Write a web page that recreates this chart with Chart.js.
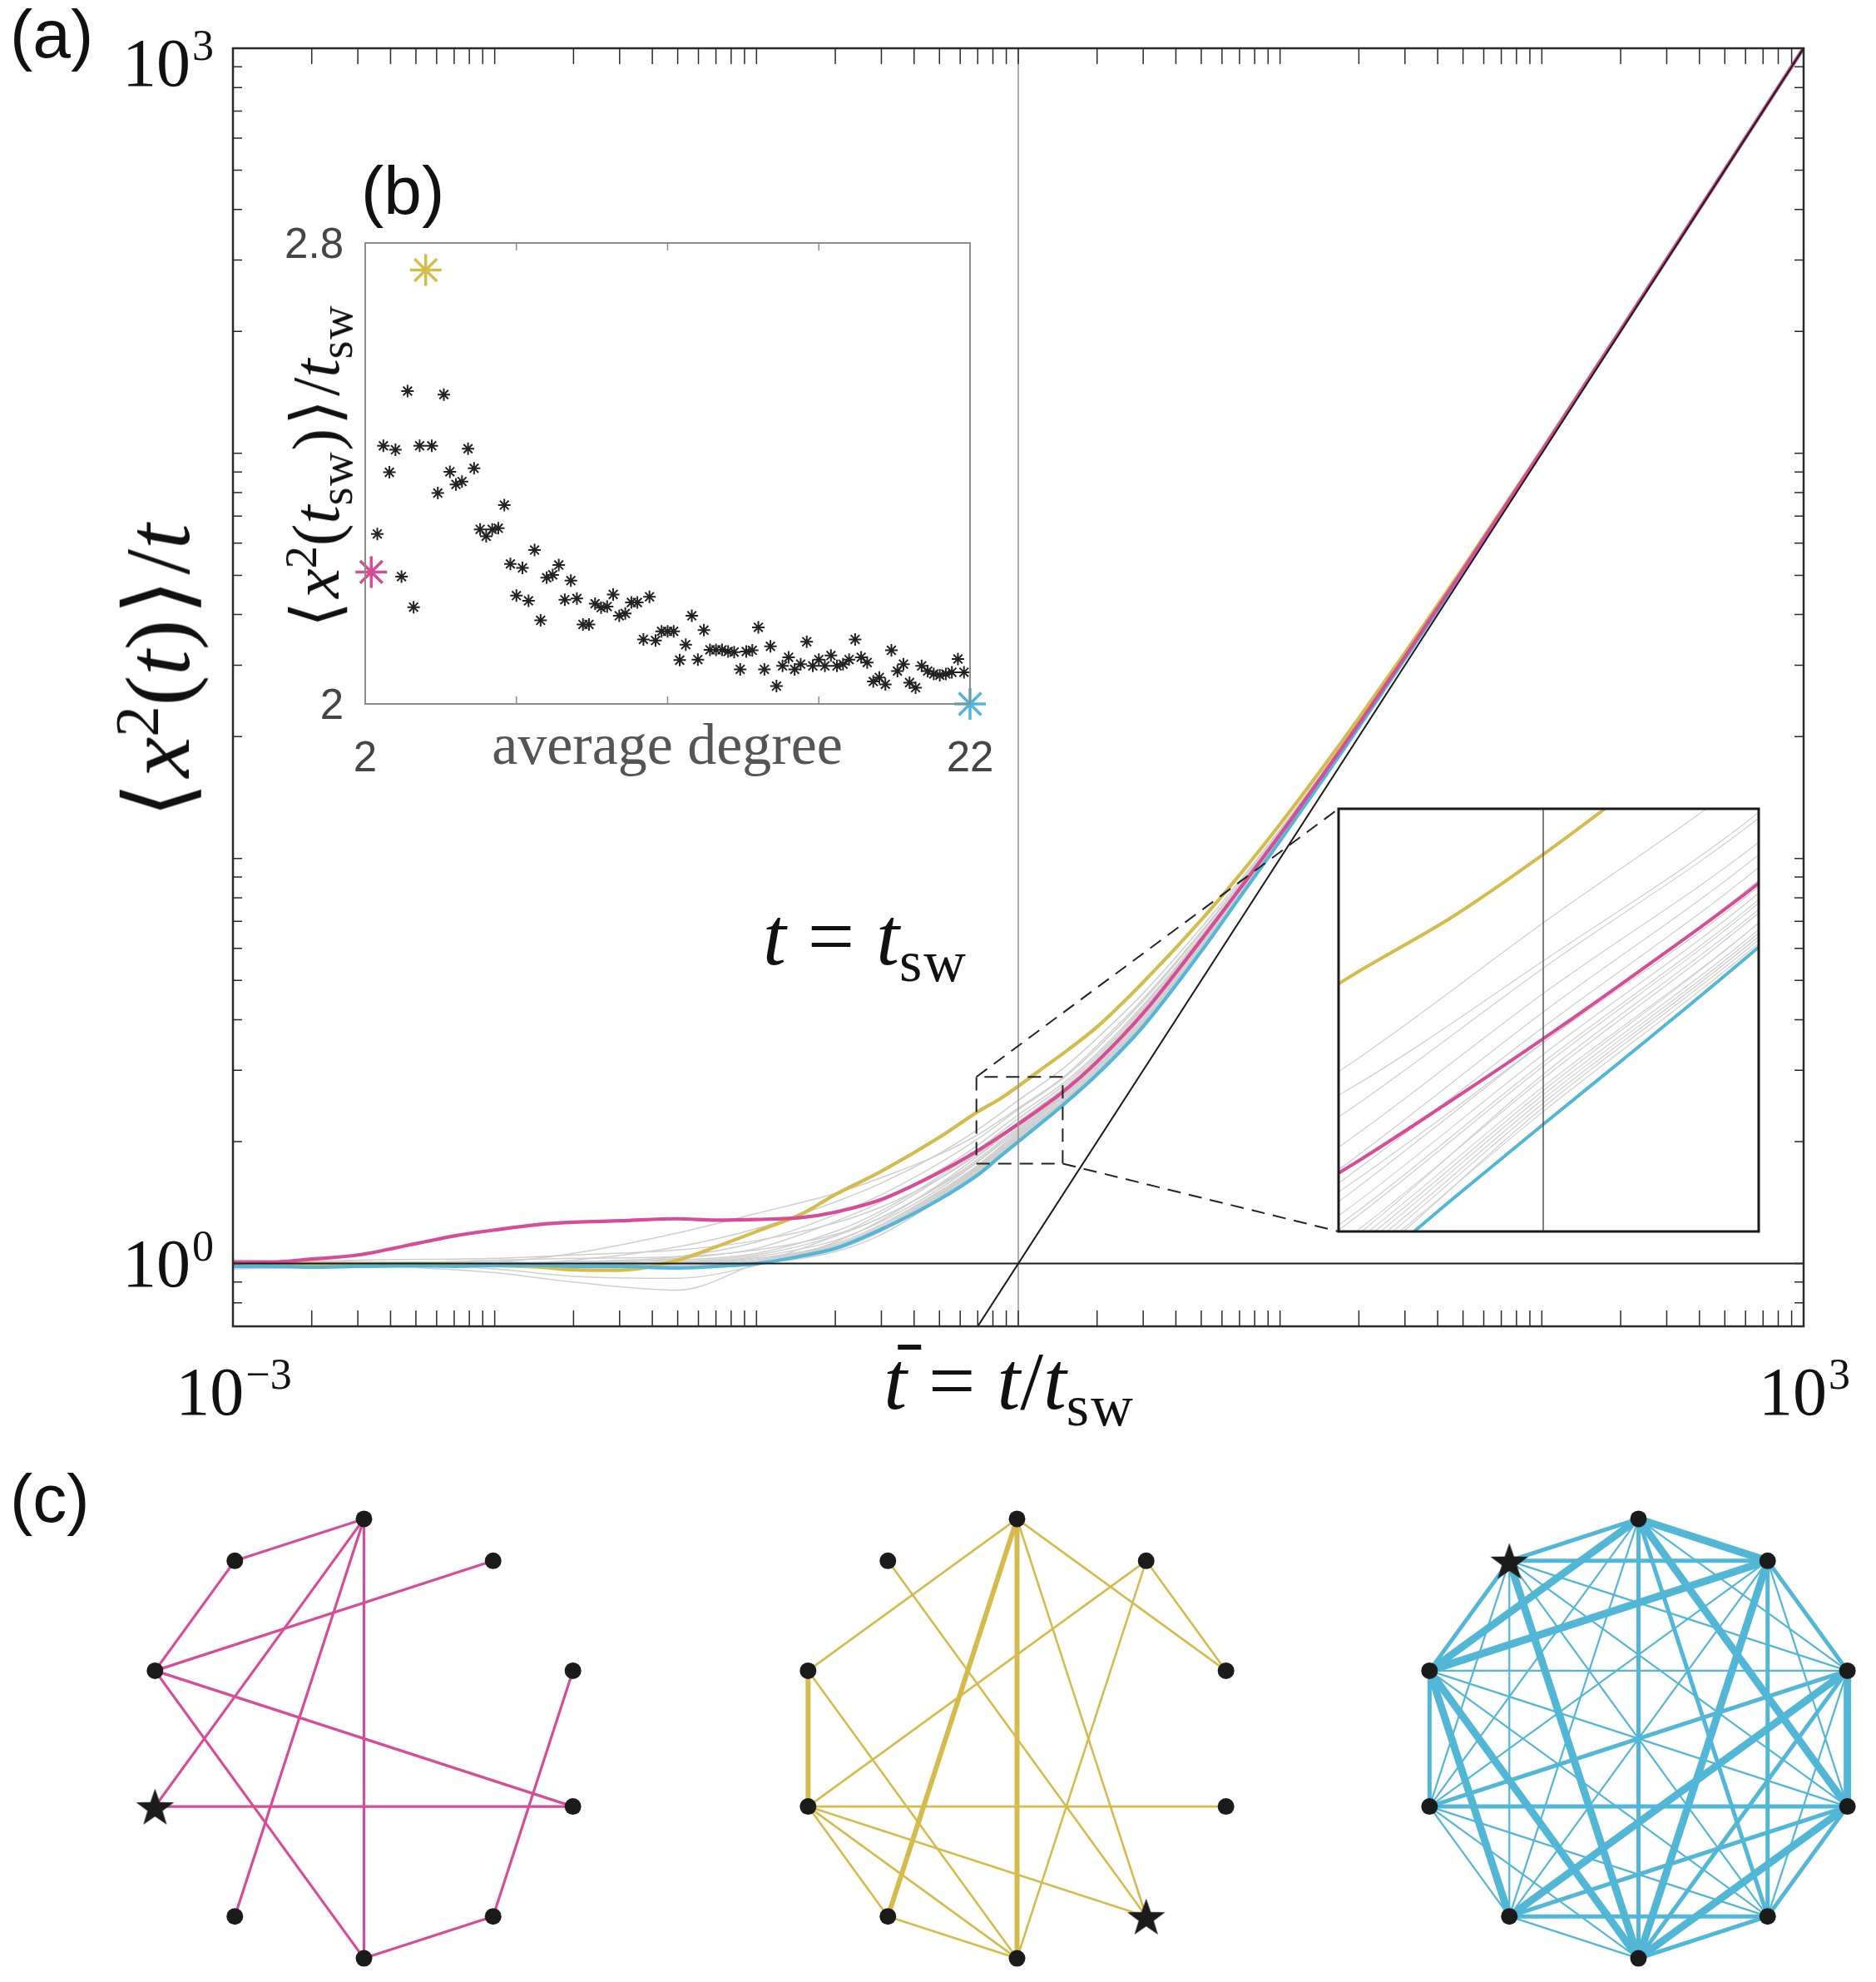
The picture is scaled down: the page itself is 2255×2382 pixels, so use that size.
<!DOCTYPE html>
<html lang="en">
<head>
<meta charset="UTF-8">
<title>Diffusion on small-world networks</title>
<script src="https://cdn.jsdelivr.net/npm/chart.js@4.4.1/dist/chart.umd.min.js"></script>
<style>
  body { margin: 0; background: #fff; overflow: hidden; }
  #page { position: relative; width: 2255px; height: 2382px; overflow: hidden; background: #fff; }
  .holder { position: absolute; }
  .txt { position: absolute; white-space: nowrap; line-height: 1; color: #111; }
  .tag { font-family: "Liberation Sans", Arial, sans-serif; font-size: 82px; }
  .tex { font-family: "Liberation Serif", "DejaVu Serif", serif; }
  .tex sup { font-size: 0.68em; vertical-align: 0.5em; line-height: 0; }
  .tex sub { font-size: 0.7em; vertical-align: -0.28em; line-height: 0; letter-spacing: 0.03em; }
  .tex .op { margin: 0 0.26em; }
  .tex .ang { margin: 0 0.05em; }
  .rot { transform: translate(-50%, -50%) rotate(-90deg); }
  .bar { position: relative; }
  .bar::before { content: ""; position: absolute; left: 0.17em; top: 0.12em; width: 0.28em; border-top: 0.06em solid #111; }
</style>
</head>
<body>
<div id="page">
  <div class="holder" style="left:0;top:0"><canvas id="mainChart" width="2255" height="1760"></canvas></div>
  <div class="holder" style="left:300px;top:180px"><canvas id="degreeChart" width="950" height="800"></canvas></div>
  <div class="holder" style="left:1580px;top:950px"><canvas id="zoomChart" width="560" height="560"></canvas></div>
  <div class="holder" style="left:147px;top:1799px"><canvas id="netPink" width="581" height="581"></canvas></div>
  <div class="holder" style="left:932px;top:1799px"><canvas id="netYellow" width="581" height="581"></canvas></div>
  <div class="holder" style="left:1679px;top:1799px"><canvas id="netBlue" width="581" height="581"></canvas></div>

  <div class="txt tag" style="left:12px;top:0">(a)</div>
  <div class="txt tag" style="left:434px;top:188px">(b)</div>
  <div class="txt tag" style="left:12px;top:1760px">(c)</div>

  <div class="txt tex rot" style="left:190px;top:809px;font-size:110px"><span class="ang">⟨</span><i>x</i><sup>2</sup>(<i>t</i>)<span class="ang">⟩</span>/<i>t</i></div>
  <div class="txt tex" style="left:1213px;top:1610px;font-size:100px;transform:translateX(-50%)"><i class="bar">t</i><span class="op">=</span><i>t</i>/<i>t</i><sub>sw</sub></div>
  <div class="txt tex" style="left:917px;top:1076px;font-size:100px"><i>t</i><span class="op">=</span><i>t</i><sub>sw</sub></div>
  <div class="txt tex rot" style="left:380px;top:562px;font-size:80px"><span class="ang">⟨</span><i>x</i><sup>2</sup>(<i>t</i><sub>sw</sub>)<span class="ang">⟩</span>/<i>t</i><sub>sw</sub></div>
  <div class="txt tex" style="left:802px;top:860px;font-size:70px;color:#555;transform:translateX(-50%)">average degree</div>
</div>

<script>
  // ---- (a) rescaled MSD, three highlighted networks on a shared time grid
  const tGrid = [0.001, 0.0015, 0.002, 0.003, 0.005, 0.007, 0.01, 0.015, 0.02, 0.03, 0.05, 0.07, 0.1, 0.15, 0.2, 0.3, 0.5, 0.7, 0.85, 1, 1.2, 1.5, 2, 3, 5, 7, 10, 15, 20, 30, 50, 100, 200, 500, 1000];
  const pinkMsd = [1.008, 1.010, 1.026, 1.05, 1.12, 1.17, 1.21, 1.25, 1.265, 1.275, 1.29, 1.28, 1.285, 1.30, 1.34, 1.44, 1.68, 1.90, 2.06, 2.21, 2.40, 2.67, 3.15, 4.15, 6.3, 8.4, 11.45, 16.5, 21.5, 31.5, 51.5, 101.5, 201.5, 501.5, 1001.5];
  const yellowMsd = [1.0, 1.0, 1.0, 0.995, 1.0, 0.995, 0.99, 0.98, 0.965, 0.963, 1.02, 1.10, 1.20, 1.33, 1.48, 1.69, 2.05, 2.37, 2.55, 2.74, 2.99, 3.32, 3.84, 4.95, 7.05, 9.1, 12.15, 17.2, 22.2, 32.2, 52.2, 102, 202, 502, 1002];
  const blueMsd = [0.985, 0.985, 0.98, 0.985, 0.988, 0.985, 0.99, 0.99, 0.985, 0.985, 0.975, 0.985, 1.0, 1.045, 1.09, 1.215, 1.44, 1.655, 1.835, 2.0, 2.20, 2.48, 2.93, 3.85, 5.9, 8.0, 11.05, 16.1, 21.1, 31.1, 51.1, 101, 201, 501, 1001];

  // the other networks (grey bundle), coarser grid
  const grayT = [0.001, 0.003, 0.01, 0.02, 0.05, 0.1, 0.2, 0.3, 0.5, 0.7, 1, 1.5, 2, 3, 5, 10, 20, 100, 1000];
  const grayMsd = [
    [1.0, 1.0, 1.01, 1.06, 1.19, 1.33, 1.49, 1.63, 1.86, 2.08, 2.42, 2.9, 3.45, 4.5, 6.6, 11.7, 21.7, 101.7, 1001.7],
    [1.0, 1.0, 1.0, 1.02, 1.10, 1.22, 1.42, 1.58, 1.87, 2.14, 2.53, 3.05, 3.6, 4.65, 6.75, 11.8, 21.8, 101.8, 1001.8],
    [1.0, 1.0, 1.0, 1.01, 1.04, 1.13, 1.32, 1.48, 1.77, 2.03, 2.40, 2.88, 3.4, 4.45, 6.55, 11.6, 21.6, 101.6, 1001.6],
    [0.99, 1.0, 1.0, 1.0, 1.03, 1.09, 1.27, 1.42, 1.70, 1.96, 2.33, 2.80, 3.3, 4.35, 6.45, 11.5, 21.5, 101.5, 1001.5],
    [1.0, 0.99, 0.95, 0.90, 0.86, 1.0, 1.17, 1.33, 1.62, 1.88, 2.24, 2.72, 3.22, 4.25, 6.35, 11.4, 21.4, 101.4, 1001.4],
    [1.0, 1.0, 0.97, 0.93, 0.92, 0.99, 1.13, 1.28, 1.57, 1.84, 2.20, 2.68, 3.18, 4.2, 6.3, 11.35, 21.35, 101.3, 1001.3],
    [1.0, 1.01, 1.0, 1.0, 1.01, 1.05, 1.17, 1.30, 1.56, 1.81, 2.17, 2.64, 3.14, 4.15, 6.25, 11.3, 21.3, 101.3, 1001.3],
    [0.98, 0.99, 1.0, 0.99, 1.0, 1.04, 1.14, 1.27, 1.53, 1.78, 2.14, 2.61, 3.1, 4.1, 6.2, 11.25, 21.25, 101.2, 1001.2],
    [1.01, 1.0, 0.99, 1.0, 1.0, 1.03, 1.12, 1.25, 1.51, 1.75, 2.11, 2.58, 3.06, 4.05, 6.15, 11.2, 21.2, 101.2, 1001.2],
    [0.99, 1.0, 1.01, 1.0, 0.99, 1.02, 1.11, 1.23, 1.49, 1.73, 2.09, 2.55, 3.03, 4.0, 6.1, 11.15, 21.15, 101.1, 1001.1],
    [1.0, 0.99, 1.0, 1.01, 1.0, 1.02, 1.10, 1.22, 1.47, 1.71, 2.07, 2.53, 3.0, 3.97, 6.05, 11.1, 21.1, 101.1, 1001.1],
    [1.0, 1.0, 0.99, 0.99, 0.98, 1.01, 1.09, 1.21, 1.46, 1.69, 2.05, 2.51, 2.97, 3.93, 6.0, 11.05, 21.05, 101, 1001],
    [0.97, 0.98, 0.99, 1.0, 0.99, 1.01, 1.08, 1.20, 1.45, 1.68, 2.03, 2.49, 2.95, 3.9, 5.95, 11.0, 21.0, 101, 1001],
    [1.0, 1.02, 1.03, 1.05, 1.08, 1.14, 1.26, 1.38, 1.62, 1.86, 2.20, 2.66, 3.15, 4.17, 6.27, 11.3, 21.3, 101.3, 1001.3],
    [1.0, 1.0, 1.02, 1.03, 1.04, 1.08, 1.18, 1.30, 1.55, 1.79, 2.15, 2.62, 3.11, 4.12, 6.22, 11.25, 21.25, 101.2, 1001.2],
    [0.99, 0.98, 0.99, 0.98, 0.97, 1.0, 1.09, 1.22, 1.48, 1.72, 2.08, 2.55, 3.03, 4.0, 6.1, 11.15, 21.15, 101.1, 1001.1],
    [1.0, 1.0, 1.0, 1.0, 1.01, 1.03, 1.11, 1.24, 1.50, 1.74, 2.12, 2.59, 3.07, 4.06, 6.15, 11.2, 21.2, 101.2, 1001.2],
    [1.02, 1.01, 1.0, 0.99, 0.99, 1.02, 1.10, 1.22, 1.47, 1.70, 2.06, 2.52, 2.99, 3.96, 6.04, 11.1, 21.1, 101.1, 1001.1],
    [0.98, 0.99, 0.98, 0.98, 0.98, 1.0, 1.07, 1.18, 1.44, 1.67, 2.04, 2.50, 2.96, 3.92, 5.98, 11.0, 21.0, 101, 1001],
    [1.0, 1.0, 1.0, 1.01, 1.02, 1.06, 1.20, 1.35, 1.64, 1.91, 2.28, 2.76, 3.26, 4.3, 6.4, 11.45, 21.45, 101.4, 1001.4]
  ];

  // reference lines: plateau 1, ballistic t, and t = t_sw
  const unitT = [0.001, 1000], unitY = [1, 1];
  const diagT = [0.5, 1000], diagY = [0.5, 1000];
  const swT = [1, 1], swY = [0.705, 1000];
  // zoomed window
  const zoomT = [0.692, 1.478], zoomY = [1.765, 2.89];

  const xTickLabels = [1e-3, 1e3], xTickExps = ['\u22123', '3'];
  const yTickLabels = [1, 1e3], yTickExps = ['0', '3'];

  // ---- (b) value at t_sw vs average degree
  const degBlack = [2.4, 2.6, 2.8, 3.0, 3.2, 3.4, 3.6, 3.8, 4.2, 4.4, 4.6, 4.8, 5.0, 5.2, 5.4, 5.6, 5.8, 6.0, 6.2, 6.4, 6.6, 6.8, 7.0, 7.2, 7.4, 7.6, 7.8, 8.0, 8.2, 8.4, 8.6, 8.8, 9.0, 9.2, 9.4, 9.6, 9.8, 10.0, 10.2, 10.4, 10.6, 10.8, 11.0, 11.2, 11.4, 11.6, 11.8, 12.0, 12.2, 12.4, 12.6, 12.8, 13.0, 13.2, 13.4, 13.6, 13.8, 14.0, 14.2, 14.4, 14.6, 14.8, 15.0, 15.2, 15.4, 15.6, 15.8, 16.0, 16.2, 16.4, 16.6, 16.8, 17.0, 17.2, 17.4, 17.6, 17.8, 18.0, 18.2, 18.4, 18.6, 18.8, 19.0, 19.2, 19.4, 19.6, 19.8, 20.0, 20.2, 20.4, 20.6, 20.8, 21.0, 21.2, 21.4, 21.6, 21.8];
  const valBlack = [2.295, 2.448, 2.402, 2.441, 2.221, 2.543, 2.168, 2.448, 2.448, 2.366, 2.537, 2.403, 2.381, 2.386, 2.443, 2.409, 2.303, 2.291, 2.303, 2.305, 2.345, 2.243, 2.188, 2.236, 2.179, 2.267, 2.145, 2.219, 2.224, 2.241, 2.181, 2.214, 2.183, 2.138, 2.138, 2.174, 2.167, 2.169, 2.19, 2.153, 2.157, 2.176, 2.176, 2.112, 2.186, 2.110, 2.126, 2.126, 2.126, 2.076, 2.103, 2.153, 2.077, 2.128, 2.094, 2.094, 2.094, 2.091, 2.090, 2.060, 2.091, 2.093, 2.133, 2.060, 2.10, 2.031, 2.066, 2.081, 2.060, 2.069, 2.108, 2.066, 2.077, 2.066, 2.084, 2.066, 2.069, 2.077, 2.112, 2.081, 2.072, 2.039, 2.046, 2.034, 2.093, 2.057, 2.069, 2.037, 2.028, 2.066, 2.057, 2.052, 2.050, 2.052, 2.055, 2.078, 2.055];
  const degPink = [2.2], valPink = [2.229];
  const degYellow = [4.0], valYellow = [2.753];
  const degBlue = [22], valBlue = [2.0];
  const degTicks = [2, 7, 12, 17, 22];
  const degTickLabels = [2, 22], valTickLabels = [2, 2.8];

  // ---- (c) the three networks, nodes on a decagon (index 0 at the top, clockwise)
  const nodeAngles = [90, 54, 18, -18, -54, -90, -126, -162, 162, 126];
  const pinkEdges = [[9, 0], [9, 8], [0, 7], [0, 6], [0, 5], [8, 1], [8, 3], [8, 5], [7, 3], [2, 4], [4, 5]];
  const yellowThin = [[8, 0], [9, 4], [0, 4], [0, 2], [1, 7], [1, 5], [1, 2], [8, 5], [7, 3], [7, 4], [7, 6], [7, 5], [6, 5]];
  const yellowThick = [[0, 6], [0, 5], [8, 7]];
  const blueThick = [[0, 1], [0, 8], [0, 3], [1, 8], [1, 5], [9, 5], [8, 6], [8, 5], [6, 2], [5, 3], [3, 2]];
  const blueMid = [[0, 9], [0, 5], [0, 4], [1, 9], [1, 4], [1, 2], [9, 8], [8, 7], [7, 2], [7, 3], [6, 3], [6, 4], [5, 2], [5, 4], [4, 3]];
  const blueThin = [[0, 2], [0, 6], [0, 7], [1, 3], [1, 6], [1, 7], [9, 2], [9, 3], [9, 6], [9, 7], [9, 4], [8, 2], [8, 4], [8, 3], [7, 6], [7, 5], [7, 4], [6, 5], [4, 2]];

  const PINK = '#d64c96', YELLOW = '#d4bc4c', BLUE = '#52b7d6', GRAY = '#cfcfcf';
  const ZOOM_AREA = { left: 1609, top: 972, right: 2114, bottom: 1480 };

  const pts = (xs, ys) => xs.map((x, i) => ({ x: x, y: ys[i] }));

  function curve(data, color, width, order, extra) {
    return Object.assign({
      data: data, showLine: true, borderColor: color, borderWidth: width,
      pointRadius: 0, fill: false, cubicInterpolationMode: 'monotone', order: order
    }, extra || {});
  }

  function logTicks(lo, hi) {
    const out = [];
    for (let e = Math.floor(Math.log10(lo)); e <= Math.ceil(Math.log10(hi)); e++) {
      for (let m = 1; m < 10; m++) {
        const v = m * Math.pow(10, e);
        if (v >= lo * 0.999 && v <= hi * 1.001) out.push(v);
      }
    }
    return out;
  }

  // box with inward tick marks on all four sides
  function frame(opts) {
    return {
      id: 'frame',
      beforeDraw(chart) {
        if (!opts.fill) return;
        const a = chart.chartArea;
        chart.ctx.save();
        chart.ctx.fillStyle = opts.fill;
        chart.ctx.fillRect(a.left, a.top, a.width, a.height);
        chart.ctx.restore();
      },
      afterDraw(chart) {
        const { ctx, chartArea: a, scales } = chart;
        ctx.save();
        ctx.strokeStyle = opts.color;
        ctx.lineWidth = opts.tickWidth || 1.5;
        ctx.beginPath();
        (opts.xTicks || []).forEach(v => {
          const p = scales.x.getPixelForValue(v);
          ctx.moveTo(p, a.bottom); ctx.lineTo(p, a.bottom - opts.xLen);
          ctx.moveTo(p, a.top); ctx.lineTo(p, a.top + opts.xLen);
        });
        (opts.yTicks || []).forEach(v => {
          const p = scales.y.getPixelForValue(v);
          ctx.moveTo(a.left, p); ctx.lineTo(a.left + opts.yLen, p);
          ctx.moveTo(a.right, p); ctx.lineTo(a.right - opts.yLen, p);
        });
        ctx.stroke();
        ctx.lineWidth = opts.width;
        ctx.strokeRect(a.left, a.top, a.width, a.height);
        ctx.restore();
      }
    };
  }

  // "10" with a raised exponent, placed through the scales
  const expLabels = {
    id: 'expLabels',
    afterDraw(chart) {
      const { ctx, chartArea: a, scales } = chart;
      const baseFont = '82px "Liberation Serif", serif';
      const supFont = '52px "Liberation Serif", serif';
      function put(exp, x, baseline, align) {
        ctx.font = baseFont; const w1 = ctx.measureText('10').width;
        ctx.font = supFont; const w2 = ctx.measureText(exp).width;
        const left = align === 'center' ? x - (w1 + w2) / 2 : x - w1 - w2;
        ctx.font = baseFont; ctx.fillText('10', left, baseline);
        ctx.font = supFont; ctx.fillText(exp, left + w1 + 2, baseline - 31);
      }
      ctx.save();
      ctx.fillStyle = '#111';
      ctx.textAlign = 'left';
      ctx.textBaseline = 'alphabetic';
      xTickLabels.forEach((v, i) => put(xTickExps[i], scales.x.getPixelForValue(v), a.bottom + 106, 'center'));
      yTickLabels.forEach((v, i) => {
        const c = Math.max(scales.y.getPixelForValue(v), a.top + 18);
        put(yTickExps[i], a.left - 25, c + 27, 'right');
      });
      ctx.restore();
    }
  };

  // dashed leaders from the zoom window to the enlarged panel
  const zoomLinks = {
    id: 'zoomLinks',
    afterDatasetsDraw(chart) {
      const { ctx, scales } = chart;
      ctx.save();
      ctx.setLineDash([16, 10]);
      ctx.strokeStyle = '#222';
      ctx.lineWidth = 2;
      ctx.beginPath();
      ctx.moveTo(scales.x.getPixelForValue(zoomT[0]), scales.y.getPixelForValue(zoomY[1]));
      ctx.lineTo(ZOOM_AREA.left, ZOOM_AREA.top);
      ctx.moveTo(scales.x.getPixelForValue(zoomT[1]), scales.y.getPixelForValue(zoomY[0]));
      ctx.lineTo(ZOOM_AREA.left, ZOOM_AREA.bottom);
      ctx.stroke();
      ctx.restore();
    }
  };

  // lower order is drawn on top: pink over blue over yellow over the grey bundle
  function msdSets(colorWidth, grayWidth) {
    const sets = grayMsd.map(g => curve(pts(grayT, g), GRAY, grayWidth, 10));
    sets.push(curve(pts(tGrid, yellowMsd), YELLOW, colorWidth, 4));
    sets.push(curve(pts(tGrid, blueMsd), BLUE, colorWidth, 3));
    sets.push(curve(pts(tGrid, pinkMsd), PINK, colorWidth, 2));
    return sets;
  }

  const baseOptions = {
    responsive: false, animation: false, events: [],
    plugins: { legend: { display: false }, tooltip: { enabled: false } },
    elements: { line: { capBezierPoints: false } }
  };

  const mainSets = msdSets(4.2, 1.5);
  mainSets.push(curve(pts(unitT, unitY), '#1a1a1a', 2, 1, { cubicInterpolationMode: 'default' }));
  mainSets.push(curve(pts(diagT, diagY), '#1a1a1a', 2, 1, { cubicInterpolationMode: 'default' }));
  mainSets.push(curve(pts(swT, swY), '#8f8f8f', 1.5, 1, { cubicInterpolationMode: 'default' }));
  mainSets.push(curve(pts([zoomT[0], zoomT[1], zoomT[1], zoomT[0], zoomT[0]], [zoomY[0], zoomY[0], zoomY[1], zoomY[1], zoomY[0]]),
    '#222', 2, 0, { cubicInterpolationMode: 'default', borderDash: [16, 10] }));

  new Chart(document.getElementById('mainChart'), {
    type: 'scatter',
    data: { datasets: mainSets },
    options: Object.assign({}, baseOptions, {
      layout: { autoPadding: false, padding: { left: 280, top: 58, right: 87, bottom: 166 } },
      scales: {
        x: { type: 'logarithmic', min: 1e-3, max: 1e3, display: false },
        y: { type: 'logarithmic', min: 0.705, max: 1e3, display: false }
      }
    }),
    plugins: [frame({ color: '#2a2a2a', width: 2.5, xTicks: logTicks(1e-3, 1e3), yTicks: logTicks(0.705, 1e3), xLen: 19, yLen: 11 }), expLabels, zoomLinks]
  });

  const zoomSets = msdSets(4, 1.2);
  zoomSets.push(curve(pts(swT, swY), '#555', 1.5, 1, { cubicInterpolationMode: 'default' }));

  new Chart(document.getElementById('zoomChart'), {
    type: 'scatter',
    data: { datasets: zoomSets },
    options: Object.assign({}, baseOptions, {
      layout: { autoPadding: false, padding: { left: 29, top: 22, right: 26, bottom: 30 } },
      scales: {
        x: { type: 'logarithmic', min: zoomT[0], max: zoomT[1], display: false },
        y: { type: 'logarithmic', min: zoomY[0], max: zoomY[1], display: false }
      }
    }),
    plugins: [frame({ color: '#1a1a1a', width: 3, fill: '#fff' })]
  });

  const degreeLabels = {
    id: 'degreeLabels',
    afterDraw(chart) {
      const { ctx, chartArea: a, scales } = chart;
      ctx.save();
      ctx.fillStyle = '#454545';
      ctx.font = '51px "Liberation Sans", Arial, sans-serif';
      ctx.textBaseline = 'alphabetic';
      ctx.textAlign = 'center';
      degTickLabels.forEach(v => ctx.fillText(String(v), scales.x.getPixelForValue(v), a.bottom + 81));
      ctx.textAlign = 'right';
      valTickLabels.forEach(v => ctx.fillText(String(v), a.left - 26, scales.y.getPixelForValue(v) + 18));
      ctx.restore();
    }
  };

  function asterisks(xs, ys, color, radius, width) {
    return { data: pts(xs, ys), pointStyle: 'star', pointRadius: radius, borderColor: color, borderWidth: width, clip: false };
  }

  new Chart(document.getElementById('degreeChart'), {
    type: 'scatter',
    data: {
      datasets: [
        asterisks(degPink, valPink, PINK, 19, 3.5),
        asterisks(degYellow, valYellow, YELLOW, 19, 3.5),
        asterisks(degBlue, valBlue, BLUE, 19, 3.5),
        asterisks(degBlack, valBlack, '#222', 7.5, 2)
      ]
    },
    options: Object.assign({}, baseOptions, {
      layout: { autoPadding: false, padding: { left: 139, top: 112, right: 84, bottom: 134 } },
      scales: {
        x: { type: 'linear', min: 2, max: 22, display: false },
        y: { type: 'linear', min: 2, max: 2.8, display: false }
      }
    }),
    plugins: [frame({ color: '#8c8c8c', width: 2, xTicks: degTicks, xLen: 9 }), degreeLabels]
  });

  function starImage(r) {
    const c = document.createElement('canvas');
    c.width = c.height = Math.ceil(2 * r + 2);
    const g = c.getContext('2d');
    g.translate(c.width / 2, c.height / 2 + r * 0.1);
    g.beginPath();
    for (let k = 0; k < 10; k++) {
      const rad = k % 2 ? r * 0.4 : r;
      const ang = -Math.PI / 2 + k * Math.PI / 5;
      g.lineTo(rad * Math.cos(ang), rad * Math.sin(ang));
    }
    g.closePath();
    g.fillStyle = '#1b1b1b';
    g.fill();
    return c;
  }

  function network(id, edgeGroups, starNode, color) {
    const nodes = nodeAngles.map(d => ({ x: Math.cos(d * Math.PI / 180), y: Math.sin(d * Math.PI / 180) }));
    const datasets = [];
    edgeGroups.forEach(grp => grp.edges.forEach(([p, q]) => {
      datasets.push({ data: [{ ...nodes[p] }, { ...nodes[q] }], showLine: true, borderColor: color, borderWidth: grp.width, pointRadius: 0, order: 2 });
    }));
    datasets.push({ data: nodes.filter((_, k) => k !== starNode).map(n => ({ ...n })), pointRadius: 10, backgroundColor: '#1b1b1b', borderWidth: 0, order: 0, clip: false });
    datasets.push({ data: [{ ...nodes[starNode] }], pointStyle: starImage(24), pointRadius: 24, order: 0, clip: false });
    new Chart(document.getElementById(id), {
      type: 'scatter',
      data: { datasets: datasets },
      options: Object.assign({}, baseOptions, {
        layout: { autoPadding: false, padding: 0 },
        scales: {
          x: { type: 'linear', min: -1.1, max: 1.1, display: false },
          y: { type: 'linear', min: -1.1, max: 1.1, display: false }
        }
      })
    });
  }

  network('netPink', [{ edges: pinkEdges, width: 3.2 }], 7, PINK);
  network('netYellow', [{ edges: yellowThin, width: 2.6 }, { edges: yellowThick, width: 6 }], 4, YELLOW);
  network('netBlue', [{ edges: blueThin, width: 2.2 }, { edges: blueMid, width: 5 }, { edges: blueThick, width: 9 }], 9, BLUE);
</script>
</body>
</html>
